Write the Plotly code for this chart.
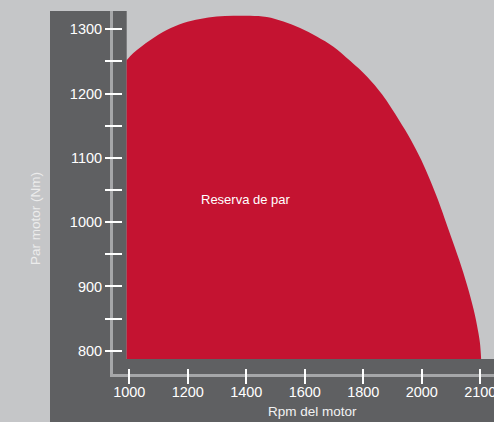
import plotly.graph_objects as go

# ---- data ----
curve_rpm = [991, 1014, 1071, 1128, 1185, 1242, 1299, 1356, 1413, 1470, 1527,
             1584, 1641, 1698, 1755, 1814, 1864, 1922, 1963, 1998, 2028, 2056,
             2098, 2128, 2155, 2178, 2192, 2199, 2203]
curve_torque = [1252, 1263, 1283, 1299, 1310, 1316, 1320, 1321, 1321, 1319, 1312,
                1302, 1289, 1273, 1251, 1226, 1199, 1159, 1128, 1097, 1066, 1034,
                980, 941, 902, 863, 832, 812, 787]
base_rpm = [991, 2203]
base_torque = [787, 787]

x_tick_vals = [1000, 1200, 1400, 1600, 1800, 2000, 2200]
x_tick_text = ["1000", "1200", "1400", "1600", "1800", "2000", "2100"]
y_tick_vals = [800, 900, 1000, 1100, 1200, 1300]
y_minor_vals = [850, 950, 1050, 1150, 1250]

area_label = "Reserva de par"
area_label_x, area_label_y = 1399, 1036
x_title = "Rpm del motor"
y_title = "Par motor (Nm)"

# ---- style / layout ----
W, H = 494, 422
L, T = 113, 11
B_PIX = 374                      # bottom edge of plot area in pixels
PW, PH = W - L, B_PIX - T

RED = "#c41331"
DARK = "#5f6062"
LIGHT = "#c5c6c8"
AXLINE = "#a6a7a9"
FONT = "Liberation Sans, Arial, sans-serif"

x_range = [944.3, 2247.0]
y_range = [763.8, 1328.5]


def fx(px):
    return (px - L) / PW


def fy(py):
    return (B_PIX - py) / PH


fig = go.Figure()
fig.add_trace(go.Scatter(
    x=base_rpm, y=base_torque, mode="lines",
    line=dict(color=RED, width=0), hoverinfo="skip", showlegend=False))
fig.add_trace(go.Scatter(
    x=curve_rpm, y=curve_torque, mode="lines", fill="tonexty",
    fillcolor=RED, line=dict(color=RED, width=0, shape="spline", smoothing=1.0),
    hoverinfo="skip", showlegend=False))
fig.add_trace(go.Scatter(x=[], y=[], xaxis="x2", yaxis="y2", showlegend=False))

panel = (f"M {fx(50)},{fy(11)} L {fx(126.7)},{fy(11)} L {fx(126.7)},{fy(359)} "
         f"L {fx(494)},{fy(359)} L {fx(494)},{fy(422)} L {fx(50)},{fy(422)} Z")

fig.update_layout(
    width=W, height=H,
    margin=dict(l=L, r=0, t=T, b=H - B_PIX, autoexpand=False),
    paper_bgcolor=LIGHT, plot_bgcolor="rgba(0,0,0,0)",
    showlegend=False,
    shapes=[dict(type="path", path=panel, xref="paper", yref="paper",
                 fillcolor=DARK, line=dict(width=0), layer="below")],
    xaxis=dict(range=x_range, showline=True, linecolor=AXLINE, linewidth=3,
               showgrid=False, zeroline=False, ticks="", showticklabels=False,
               fixedrange=True),
    yaxis=dict(range=y_range, showline=True, linecolor=AXLINE, linewidth=3,
               showgrid=False, zeroline=False, ticks="", showticklabels=False,
               fixedrange=True),
    xaxis2=dict(range=x_range, overlaying="x", anchor="free", position=fy(368),
                side="bottom", showline=False, showgrid=False, zeroline=False,
                tickmode="array", tickvals=x_tick_vals, ticktext=x_tick_text,
                ticks="outside", ticklen=15, tickwidth=2, tickcolor="white",
                ticklabeloverflow="allow", ticklabelstandoff=-4,
                tickfont=dict(family=FONT, size=14.5, color="white")),
    yaxis2=dict(range=y_range, overlaying="y", anchor="free", position=fx(122),
                side="left", showline=False, showgrid=False, zeroline=False,
                tickmode="array", tickvals=y_tick_vals,
                ticks="outside", ticklen=17, tickwidth=2, tickcolor="white",
                minor=dict(tickmode="array", tickvals=y_minor_vals,
                           ticks="outside", ticklen=17, tickwidth=2,
                           tickcolor="white"),
                tickfont=dict(family=FONT, size=14.5, color="white")),
    annotations=[
        dict(text=area_label, x=area_label_x, y=area_label_y, xref="x", yref="y",
             showarrow=False, font=dict(family=FONT, size=13, color="white")),
        dict(text=x_title, x=fx(312.5), y=fy(411.7), xref="paper", yref="paper",
             showarrow=False, xanchor="center", yanchor="middle",
             font=dict(family=FONT, size=13.5, color="#f2f2f2")),
        dict(text=y_title, x=fx(35), y=fy(219), xref="paper", yref="paper",
             showarrow=False, textangle=-90, xanchor="center", yanchor="middle",
             font=dict(family=FONT, size=13.5, color="#ececec")),
    ],
)

fig.write_html("out.html")
